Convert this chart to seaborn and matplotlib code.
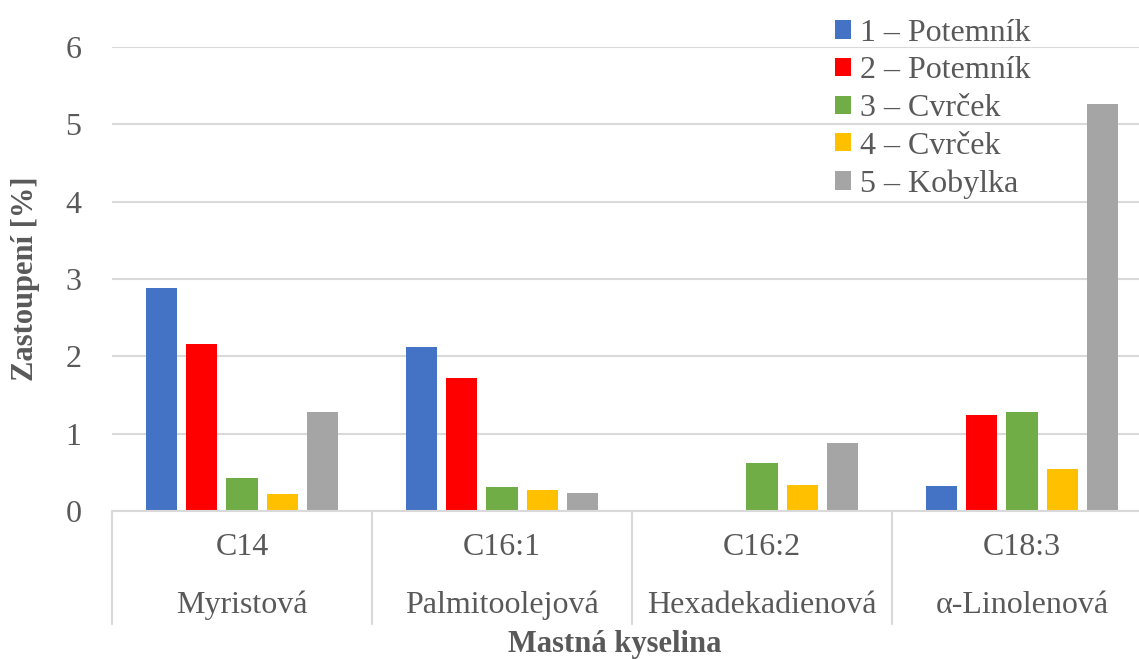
import pandas as pd
import numpy as np
import matplotlib
matplotlib.use("Agg")
import matplotlib.pyplot as plt
import matplotlib.transforms as mtransforms
import seaborn as sns

# data
codes = ["C14", "C16:1", "C16:2", "C18:3"]
names = ["Myristová", "Palmitoolejová", "Hexadekadienová", "α-Linolenová"]
series = ["1 – Potemník", "2 – Potemník", "3 – Cvrček", "4 – Cvrček", "5 – Kobylka"]
s1 = [2.88, 2.12, 0.0, 0.32]
s2 = [2.16, 1.72, 0.0, 1.24]
s3 = [0.43, 0.31, 0.62, 1.28]
s4 = [0.22, 0.27, 0.33, 0.54]
s5 = [1.28, 0.23, 0.88, 5.26]
colors = ["#4472C4", "#FF0000", "#70AD47", "#FFC000", "#A5A5A5"]
yticks = [0, 1, 2, 3, 4, 5, 6]

rows = []
for name, vals in zip(series, [s1, s2, s3, s4, s5]):
    for code, v in zip(codes, vals):
        rows.append({"kyselina": code, "vzorek": name, "hodnota": v})
df = pd.DataFrame(rows)

sns.set_style("white")
plt.rcParams["font.family"] = ["Liberation Serif", "DejaVu Serif"]
text_col = "#595959"
grid_col = "#D9D9D9"
fs = 23

W, H = 1139, 659
fig = plt.figure(figsize=(W / 100, H / 100), dpi=100)
ax = fig.add_axes([112 / W, (H - 511) / H, 1040 / W, 464 / H])

sns.barplot(data=df, x="kyselina", y="hodnota", hue="vzorek", order=codes,
            hue_order=series, palette=colors, width=0.77, gap=0.225,
            saturation=1, linewidth=0, errorbar=None, ax=ax)

ax.set_xlim(-0.5, len(codes) - 0.5)
ax.set_ylim(0, 6)
ax.set_yticks(yticks)
ax.set_yticklabels([str(t) for t in yticks], fontsize=fs, color=text_col)
ax.yaxis.grid(True, color=grid_col, linewidth=1.5)
ax.set_axisbelow(True)
ax.tick_params(axis="y", length=5, width=1.5, color=grid_col, pad=17)
ax.tick_params(axis="x", length=0, labelbottom=False)
for side in ["left", "top", "right"]:
    ax.spines[side].set_visible(False)
ax.spines["bottom"].set_color(grid_col)
ax.spines["bottom"].set_linewidth(1.5)

# two-level category labels with separators
trans = mtransforms.blended_transform_factory(ax.transData, ax.transAxes)
for i, (code, name) in enumerate(zip(codes, names)):
    ax.text(i, -0.0797, code, transform=trans, ha="center", va="center",
            fontsize=fs, color=text_col)
    ax.text(i, -0.2026, name, transform=trans, ha="center", va="center",
            fontsize=fs, color=text_col)
for xs in np.arange(-0.5, len(codes), 1.0):
    ax.plot([xs, xs], [0, -0.243], transform=trans, color=grid_col,
            linewidth=1.5, clip_on=False)

ax.set_ylabel("Zastoupení [%]", fontsize=22, fontweight="bold", color=text_col)
ax.yaxis.set_label_coords(-0.069, 0.5)
ax.set_xlabel("Mastná kyselina", fontsize=22, fontweight="bold", color=text_col)
ax.xaxis.set_label_coords(0.4837, -0.256)

ax.legend(loc="upper left", bbox_to_anchor=(822 / W, 1 - 6 / H),
          bbox_transform=fig.transFigure, frameon=False, fontsize=fs,
          handlelength=0.5, handleheight=0.5, handletextpad=0.3,
          labelspacing=0.27, labelcolor=text_col, borderaxespad=0)

fig.savefig("out.png", dpi=100)
